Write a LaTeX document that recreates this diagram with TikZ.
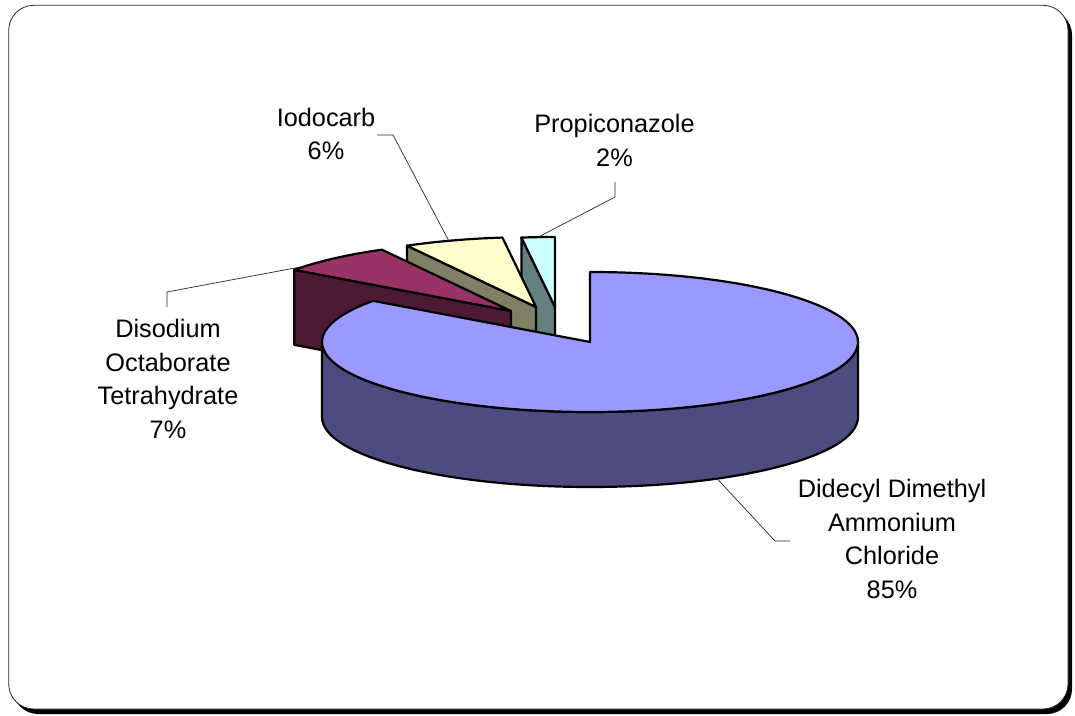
\documentclass[tikz,border=0pt]{standalone}
\usepackage{fontspec}
\setmainfont{Liberation Sans}
\usetikzlibrary{calc,positioning}
\definecolor{ddactop}{HTML}{9999FF}
\definecolor{ddacside}{HTML}{4C4C80}
\definecolor{dottop}{HTML}{993366}
\definecolor{dotside}{HTML}{4D1A33}
\definecolor{iodotop}{HTML}{FFFFCC}
\definecolor{iodoside}{HTML}{808066}
\definecolor{proptop}{HTML}{CCFFFF}
\definecolor{propside}{HTML}{668080}
\tikzset{
	%Define style for the slices
	snee/.style={
	       draw=black,
	       line width=2.2pt,
	       line join=round},
	%Define style for the labels
	tekst/.style={
	       align=center,
	       font=\fontsize{25.3}{33.7}\selectfont,
	       inner sep=2pt},
	% Define leader style
	lijn/.style={
	       draw=black!85,
	       line width=0.7pt}
}
\begin{document}
\begin{tikzpicture}[x=1pt,y=1pt]
		\useasboundingbox (0,0) rectangle (1075,715);
		% frame with shadow
		\fill[black, rounded corners=25pt] (13,1) rectangle (1072,705);
		\draw[fill=white, draw=black!85, line width=0.8pt, rounded corners=25pt] (8.7,6) rectangle (1068,709.7);
		% slice centres
		\coordinate (ddac) at (590,373);
		\coordinate (dot) at (511,404);
		\coordinate (iodo) at (536,408);
		\coordinate (prop) at (555,408);
		% Propiconazole
		\filldraw[snee, fill=propside] (prop) -- ($(prop)+(97.2:268 and 70)$) -- ++(0,-75) -- ($(prop)+(0,-75)$) -- cycle;
		\filldraw[snee, fill=proptop] (prop) -- ($(prop)+(97.2:268 and 70)$) arc[start angle=97.2, end angle=90, x radius=268, y radius=70] -- cycle;
		% Iodocarb
		\filldraw[snee, fill=iodoside] (iodo) -- ($(iodo)+(118.8:268 and 70)$) -- ++(0,-75) -- ($(iodo)+(0,-75)$) -- cycle;
		\filldraw[snee, fill=iodotop] (iodo) -- ($(iodo)+(118.8:268 and 70)$) arc[start angle=118.8, end angle=97.2, x radius=268, y radius=70] -- cycle;
		% Disodium Octaborate Tetrahydrate
		\filldraw[snee, fill=dotside] (dot) -- ($(dot)+(144:268 and 70)$) -- ++(0,-75) -- ($(dot)+(0,-75)$) -- cycle;
		\filldraw[snee, fill=dottop] (dot) -- ($(dot)+(144:268 and 70)$) arc[start angle=144, end angle=118.8, x radius=268, y radius=70] -- cycle;
		% Didecyl Dimethyl Ammonium Chloride
		\filldraw[snee, fill=ddacside] ($(ddac)+(-268,0)$) arc[start angle=180, end angle=360, x radius=268, y radius=70] -- ++(0,-75) arc[start angle=0, end angle=-180, x radius=268, y radius=70] -- cycle;
		\filldraw[snee, fill=ddactop] (ddac) -- ++(0,70) arc[start angle=90, end angle=-216, x radius=268, y radius=70] -- cycle;
		% labels
		\node[tekst] (lbl_iodo) at (326,581) {Iodocarb\\6\%};
		\node[tekst] (lbl_prop) at (614.5,574.5) {Propiconazole\\2\%};
		\node[tekst] (lbl_dot) at (168,336) {Disodium\\Octaborate\\Tetrahydrate\\7\%};
		\node[tekst] (lbl_ddac) at (892,176) {Didecyl Dimethyl\\Ammonium\\Chloride\\85\%};
		% leaders
		\coordinate (iodo_k) at (377,580);
		\coordinate (prop_k) at (615,533);
		\coordinate (dot_k) at (167,408);
		\coordinate (ddac_k) at (790,174);
		\draw[lijn] (iodo_k) -- ++(16,0) -- ($(iodo)+(109:268 and 70)$);
		\draw[lijn] (prop_k) -- ++(0,-15) -- ($(prop)+(93.6:268 and 70)$);
		\draw[lijn] (dot_k) -- ++(0,15) -- ($(dot)+(140:268 and 70)$);
		\draw[lijn] (ddac_k) -- ++(-15,0) -- ($(ddac)+(0,-75)+(-61.7:268 and 70)$);
	\end{tikzpicture}
\end{document}
